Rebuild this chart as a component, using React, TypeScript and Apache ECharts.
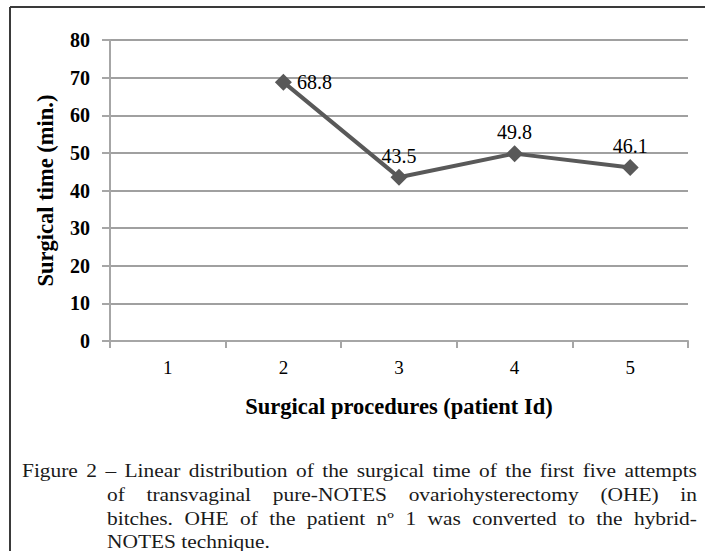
import React, { useEffect, useRef } from "react";
import * as echarts from "echarts";

const categories = ["1", "2", "3", "4", "5"];
const surgicalTime: (number | null)[] = [null, 68.8, 43.5, 49.8, 46.1];
const yTicks = { min: 0, max: 80, interval: 10 };
const xAxisTitle = "Surgical procedures (patient Id)";
const yAxisTitle = "Surgical time (min.)";
const captionLines = [
  "Figure 2 – Linear distribution of the surgical time of the first five attempts",
  "of transvaginal pure-NOTES ovariohysterectomy (OHE) in",
  "bitches. OHE of the patient nº 1 was converted to the hybrid-",
  "NOTES technique.",
];

const SERIF = "'Liberation Serif', 'Times New Roman', serif";
const CAP_SIZE = 18;
const CAP_STRETCH = 1.19;

function measure(text: string): number {
  const c = document.createElement("canvas");
  const ctx = c.getContext("2d");
  if (!ctx) return text.length * CAP_SIZE * 0.45 * CAP_STRETCH;
  ctx.font = `${CAP_SIZE}px "Liberation Serif", "Times New Roman", serif`;
  return ctx.measureText(text).width * CAP_STRETCH;
}

export default function App() {
  const ref = useRef<HTMLDivElement>(null);
  useEffect(() => {
    if (!ref.current) return;
    const chart = echarts.init(ref.current, undefined, { renderer: "svg" });
    const captionX = [22, 107, 107, 107];
    const captionY = [470.5, 494.5, 518.5, 541.5];
    const rightEdge = 697;
    const justify = [true, true, true, false];

    const captionGraphics: any[] = [];
    captionLines.forEach((line, i) => {
      const style = {
        fontFamily: SERIF,
        fontSize: CAP_SIZE,
        fill: "#1a1a1a",
        verticalAlign: "middle",
      };
      if (!justify[i]) {
        captionGraphics.push({
          type: "text",
          x: captionX[i],
          y: captionY[i],
          scaleX: CAP_STRETCH,
          style: { ...style, text: line },
        });
        return;
      }
      const words = line.split(" ");
      const widths = words.map(measure);
      const total = widths.reduce((a, b) => a + b, 0);
      const gap = (rightEdge - captionX[i] - total) / (words.length - 1);
      let x = captionX[i];
      words.forEach((w, j) => {
        captionGraphics.push({
          type: "text",
          x,
          y: captionY[i],
          scaleX: CAP_STRETCH,
          style: { ...style, text: w },
        });
        x += widths[j] + gap;
      });
    });

    const seriesData = surgicalTime.map((v, i) =>
      i === 1 && v !== null
        ? { value: v, label: { position: "right", distance: 5 } }
        : v
    );

    chart.setOption({
      animation: false,
      backgroundColor: "#ffffff",
      grid: { left: 110, right: 17, top: 40, bottom: 210, containLabel: false },
      xAxis: {
        type: "category",
        data: categories,
        boundaryGap: true,
        name: xAxisTitle,
        nameLocation: "middle",
        nameGap: 54,
        nameTextStyle: { fontFamily: SERIF, fontWeight: "bold", fontSize: 22.5, color: "#000" },
        axisLine: { lineStyle: { color: "#a6a6a6", width: 2 } },
        axisTick: { show: true, length: 7, lineStyle: { color: "#a6a6a6", width: 2 } },
        axisLabel: { fontFamily: SERIF, fontSize: 19, color: "#000", margin: 17 },
      },
      yAxis: {
        type: "value",
        min: yTicks.min,
        max: yTicks.max,
        interval: yTicks.interval,
        name: yAxisTitle,
        nameLocation: "middle",
        nameGap: 53,
        nameTextStyle: { fontFamily: SERIF, fontWeight: "bold", fontSize: 22.5, color: "#000" },
        axisLine: { show: true, lineStyle: { color: "#a6a6a6", width: 2 } },
        axisTick: { show: true, length: 8, lineStyle: { color: "#a6a6a6", width: 2 } },
        axisLabel: { fontFamily: SERIF, fontWeight: "bold", fontSize: 20, color: "#000", margin: 20 },
        splitLine: { show: true, lineStyle: { color: "#a0a0a0", width: 2 } },
      },
      series: [
        {
          type: "line",
          data: seriesData,
          connectNulls: false,
          symbol: "diamond",
          symbolSize: 17,
          itemStyle: { color: "#595959" },
          lineStyle: { color: "#595959", width: 4 },
          label: {
            show: true,
            position: "top",
            distance: 3,
            fontFamily: SERIF,
            fontSize: 20,
            color: "#000",
          },
          emphasis: { disabled: true },
        },
      ],
      graphic: [
        {
          type: "line",
          shape: { x1: 10, y1: 7, x2: 705, y2: 7 },
          style: { stroke: "#3a3a3a", lineWidth: 2 },
        },
        {
          type: "line",
          shape: { x1: 10, y1: 7, x2: 10, y2: 551 },
          style: { stroke: "#3a3a3a", lineWidth: 2 },
        },
        ...captionGraphics,
      ],
    });
    return () => chart.dispose();
  }, []);
  return (
    <div
      ref={ref}
      style={{ position: "fixed", left: 0, top: 0, width: 705, height: 551 }}
    />
  );
}
